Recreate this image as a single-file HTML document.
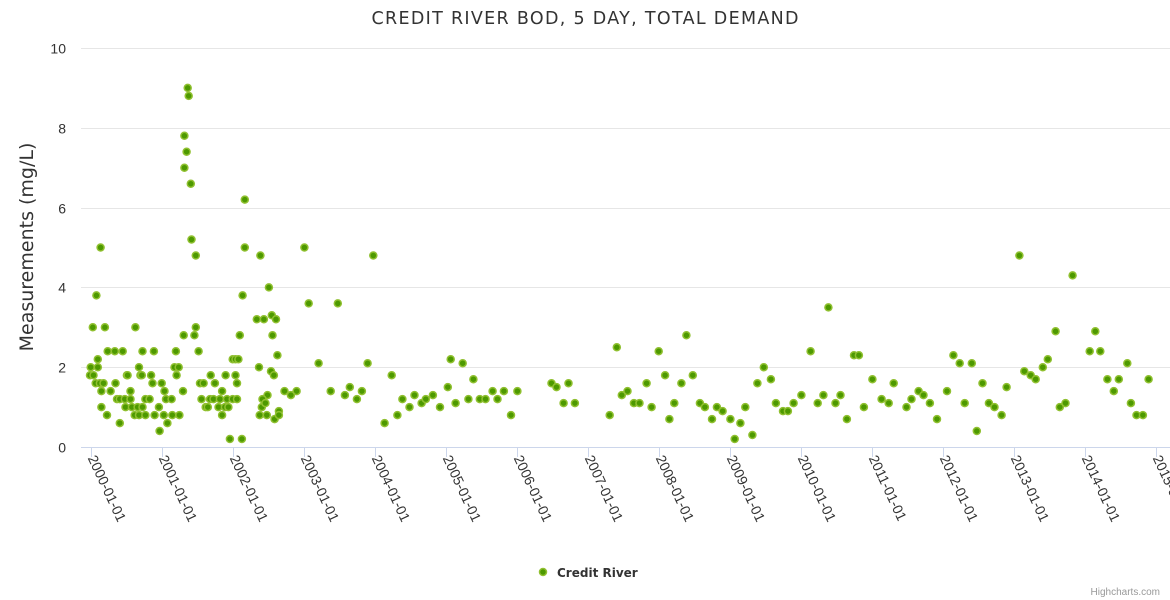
<!DOCTYPE html>
<html><head><meta charset="utf-8"><style>
html,body{margin:0;padding:0;background:#fff;}
svg{display:block;font-family:"Liberation Sans",sans-serif;}
</style></head><body>
<svg id="chart" width="1170" height="600">
<text x="585" y="24" text-anchor="middle" font-size="17.5" fill="#333" font-family="DejaVu Sans, sans-serif" textLength="427" lengthAdjust="spacing">CREDIT RIVER BOD, 5 DAY, TOTAL DEMAND</text>
<text transform="translate(33,247) rotate(-90)" text-anchor="middle" font-size="19" fill="#333" font-family="DejaVu Sans, sans-serif">Measurements (mg/L)</text>
<g id="grid"></g><g id="xaxis"></g><g id="points"></g>
<g>
<circle cx="543" cy="572" r="3.5" fill="#4d9900" stroke="#90c030" stroke-width="1.5"/>
<text x="557" y="577" font-size="12" font-weight="bold" fill="#333" font-family="DejaVu Sans, sans-serif">Credit River</text>
</g>
<text x="1160" y="595" text-anchor="end" font-size="10" fill="#999">Highcharts.com</text>
</svg>
<script>
const yTicks=[0,2,4,6,8,10];
const xTickYears=[2000,2001,2002,2003,2004,2005,2006,2007,2008,2009,2010,2011,2012,2013,2014,2015];
// years since 2000-01-01
const yearOffsets=[0.14,0.08,0.03,0.2,0.63,1.42,1.48,2.17,2.39,3.01,2.14,2.51,3.07,2.34,2.44,2.55,2.61,2.56,1.31,1.46,1.48,2.10,0.24,0.34,0.45,0.73,0.89,1.2,1.52,2.63,0.1,0,0.1,0.68,1.18,1.24,2.0,2.04,2.08,2.37,3.21,-0.01,0.04,0.51,0.52,0.70,0.72,0.85,1.21,1.69,1.9,2.04,2.54,2.58,0.07,0.13,0.18,0.35,0.87,1.0,1.54,1.59,1.75,2.06,0.15,0.28,0.56,1.04,1.3,1.85,2.49,2.73,2.82,2.9,0.37,0.41,0.48,0.56,0.77,0.83,1.06,1.14,1.56,1.68,1.73,1.82,1.92,2.0,2.06,2.42,0.15,0.49,0.58,0.66,0.73,0.96,1.62,1.65,1.8,1.89,1.94,2.41,2.46,2.65,0.23,0.62,0.68,0.77,0.9,1.03,1.15,1.25,1.85,2.38,2.48,2.59,2.65,0.41,1.08,0.97,1.96,2.13,
1.366,1.38,1.32,1.35,1.32,1.41,2.17,
3.98,3.48,3.9,4.24,3.38,3.58,3.65,3.75,3.82,4.14,4.32,4.39,4.49,4.56,4.66,4.72,4.82,4.92,5.03,5.07,5.14,5.24,5.32,5.39,5.48,5.56,5.66,5.73,5.82,5.92,6.01,
6.49,6.56,6.66,6.73,6.82,7.31,7.41,7.48,7.56,7.65,7.73,7.83,7.9,8.0,8.09,8.15,8.22,8.32,8.39,8.48,8.58,8.65,8.75,8.82,8.9,9.01,9.07,9.15,9.22,9.32,9.39,9.48,9.58,9.65,
9.75,9.82,9.9,10.01,10.14,10.24,10.32,10.39,10.49,10.56,10.65,10.75,10.82,10.89,11.01,11.14,11.24,11.31,11.49,11.56,11.66,11.73,11.82,11.92,12.06,12.15,12.24,12.31,12.41,12.48,12.56,12.65,
12.73,12.83,12.9,13.08,13.15,13.24,13.31,13.41,13.48,13.59,13.65,13.73,13.83,14.07,14.15,14.22,14.32,14.41,14.48,14.6,14.65,14.73,14.82,14.9];
const values=[5.0,3.8,3.0,3.0,3.0,5.2,4.8,5.0,4.8,5.0,3.8,4.0,3.6,3.2,3.2,3.3,3.2,2.8,2.8,2.8,3.0,2.8,2.4,2.4,2.4,2.4,2.4,2.4,2.4,2.3,2.2,2.0,2.0,2.0,2.0,2.0,2.2,2.2,2.2,2.0,2.1,1.8,1.8,1.8,1.8,1.8,1.8,1.8,1.8,1.8,1.8,1.8,1.9,1.8,1.6,1.6,1.6,1.6,1.6,1.6,1.6,1.6,1.6,1.6,1.4,1.4,1.4,1.4,1.4,1.4,1.3,1.4,1.3,1.4,1.2,1.2,1.2,1.2,1.2,1.2,1.2,1.2,1.2,1.2,1.2,1.2,1.2,1.2,1.2,1.2,1.0,1.0,1.0,1.0,1.0,1.0,1.0,1.0,1.0,1.0,1.0,1.0,1.1,0.9,0.8,0.8,0.8,0.8,0.8,0.8,0.8,0.8,0.8,0.8,0.8,0.7,0.8,0.6,0.6,0.4,0.2,0.2,
9.0,8.8,7.8,7.4,7.0,6.6,6.2,
4.8,3.6,2.1,1.8,1.4,1.3,1.5,1.2,1.4,0.6,0.8,1.2,1.0,1.3,1.1,1.2,1.3,1.0,1.5,2.2,1.1,2.1,1.2,1.7,1.2,1.2,1.4,1.2,1.4,0.8,1.4,
1.6,1.5,1.1,1.6,1.1,0.8,2.5,1.3,1.4,1.1,1.1,1.6,1.0,2.4,1.8,0.7,1.1,1.6,2.8,1.8,1.1,1.0,0.7,1.0,0.9,0.7,0.2,0.6,1.0,0.3,1.6,2.0,1.7,1.1,
0.9,0.9,1.1,1.3,2.4,1.1,1.3,3.5,1.1,1.3,0.7,2.3,2.3,1.0,1.7,1.2,1.1,1.6,1.0,1.2,1.4,1.3,1.1,0.7,1.4,2.3,2.1,1.1,2.1,0.4,1.6,1.1,
1.0,0.8,1.5,4.8,1.9,1.8,1.7,2.0,2.2,2.9,1.0,1.1,4.3,2.4,2.9,2.4,1.7,1.4,1.7,2.1,1.1,0.8,0.8,1.7];

const ns="http://www.w3.org/2000/svg";
const plotTop=48, plotBottom=447, plotLeft=81, plotRight=1170;
const x0=90.7, pxPerYear=71.0;
function xScale(t){return x0+t*pxPerYear;}
function yScale(v){return plotBottom-(v/10)*(plotBottom-plotTop);}
function mk(tag,attrs){const e=document.createElementNS(ns,tag);for(const k in attrs)e.setAttribute(k,attrs[k]);return e;}
const grid=document.getElementById('grid');
yTicks.forEach(v=>{
  const y=Math.round(yScale(v))+0.5;
  if(v>0){const l=mk('line',{x1:plotLeft,x2:plotRight,y1:y,y2:y,stroke:'#e6e6e6','stroke-width':1});
  
  
  grid.appendChild(l);}
  const t=mk('text',{x:66,y:y+5,'text-anchor':'end','font-size':14,fill:'#333'});
  
  
  t.textContent=v;grid.appendChild(t);
});
const xa=document.getElementById('xaxis');
const axl=mk('line',{x1:plotLeft,x2:plotRight,y1:447.5,y2:447.5,stroke:'#ccd6eb','stroke-width':1});


xa.appendChild(axl);
xTickYears.forEach(yr=>{
  const x=Math.round(xScale(yr-2000))+0.5;
  const tk=mk('line',{x1:x,x2:x,y1:447,y2:457,stroke:'#ccd6eb','stroke-width':1});
  
  
  xa.appendChild(tk);
  const t=mk('text',{transform:`translate(${x-4},${458}) rotate(65)`,'font-size':14,fill:'#333'});
  
  
  t.textContent=yr+'-01-01';xa.appendChild(t);
});
const pg=document.getElementById('points');
for(let i=0;i<values.length;i++){
  const c=mk('circle',{cx:xScale(yearOffsets[i]).toFixed(1),cy:yScale(values[i]).toFixed(1),r:3.5,fill:'#4d9900',stroke:'#90c030','stroke-width':1.5});
  
  
  pg.appendChild(c);
}
</script>
</body></html>
